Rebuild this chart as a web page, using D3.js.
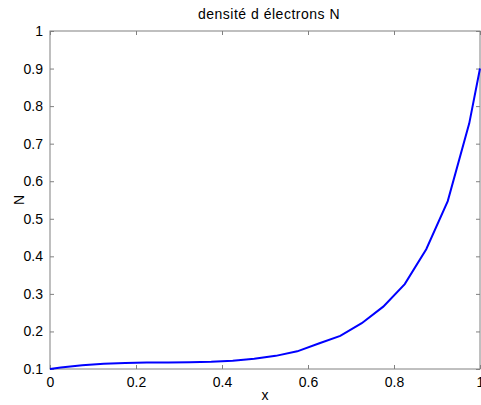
<!DOCTYPE html>
<html>
<head>
<meta charset="utf-8">
<script src="https://cdn.jsdelivr.net/npm/d3@7"></script>
<style>
  body { margin: 0; background: #fff; }
  svg { display: block; font-family: "Liberation Sans", Arial, sans-serif; }
</style>
</head>
<body>
<svg width="481" height="405"></svg>
<script>
// grid points (cell centres + both boundaries)
var xs = [0, 0.025, 0.075, 0.125, 0.175, 0.225, 0.275, 0.325, 0.375, 0.425, 0.475,
          0.525, 0.575, 0.625, 0.675, 0.725, 0.775, 0.825, 0.875, 0.925, 0.975, 1];
var ns = [0.1, 0.104, 0.110, 0.114, 0.116, 0.117, 0.117, 0.118, 0.119, 0.122, 0.127,
          0.135, 0.147, 0.168, 0.188, 0.222, 0.266, 0.326, 0.419, 0.547, 0.754, 0.9];
var xTicks = [0, 0.2, 0.4, 0.6, 0.8, 1];
var yTicks = [0.1, 0.2, 0.3, 0.4, 0.5, 0.6, 0.7, 0.8, 0.9, 1];

var svg = d3.select("svg");
var mLeft = 50, mRight = 480, mTop = 31, mBottom = 369;

var x = d3.scaleLinear().domain([0, 1]).range([mLeft, mRight]);
var y = d3.scaleLinear().domain([0.1, 1]).range([mBottom, mTop]);

var axisColor = "#808080";
var fmt = function (d) { return String(+d.toFixed(1)); };

// box
svg.append("rect")
    .attr("x", mLeft).attr("y", mTop)
    .attr("width", mRight - mLeft).attr("height", mBottom - mTop)
    .attr("fill", "none").attr("stroke", axisColor);

// axes, ticks pointing inwards
function styleAxis(g) {
    g.select(".domain").remove();
    g.selectAll(".tick line").attr("stroke", axisColor);
    g.selectAll(".tick text").attr("fill", "#000").attr("font-size", 14);
}
svg.append("g").attr("transform", "translate(0," + mBottom + ")")
    .call(d3.axisBottom(x).tickValues(xTicks).tickFormat(fmt).tickSizeInner(-4).tickPadding(8))
    .call(styleAxis);
svg.append("g").attr("transform", "translate(" + mLeft + ",0)")
    .call(d3.axisLeft(y).tickValues(yTicks).tickFormat(fmt).tickSizeInner(-4).tickPadding(7))
    .call(styleAxis);
svg.append("g").attr("transform", "translate(0," + mTop + ")")
    .call(d3.axisTop(x).tickValues(xTicks).tickFormat("").tickSizeInner(-4))
    .call(styleAxis);
svg.append("g").attr("transform", "translate(" + mRight + ",0)")
    .call(d3.axisRight(y).tickValues(yTicks).tickFormat("").tickSizeInner(-4))
    .call(styleAxis);

// curve
var line = d3.line()
    .x(function (d, i) { return x(xs[i]); })
    .y(function (d) { return y(d); });
svg.append("path")
    .datum(ns)
    .attr("d", line)
    .attr("fill", "none")
    .attr("stroke", "#0000ff")
    .attr("stroke-width", 2);

// labels
svg.append("text")
    .attr("x", 269).attr("y", 19)
    .attr("text-anchor", "middle").attr("font-size", 14)
    .attr("letter-spacing", 0.5)
    .text("densité d électrons N");
svg.append("text")
    .attr("x", (mLeft + mRight) / 2).attr("y", 400)
    .attr("text-anchor", "middle").attr("font-size", 14)
    .text("x");
svg.append("text")
    .attr("transform", "translate(24," + (mTop + mBottom) / 2 + ") rotate(-90)")
    .attr("text-anchor", "middle").attr("font-size", 14)
    .text("N");
</script>
</body>
</html>
